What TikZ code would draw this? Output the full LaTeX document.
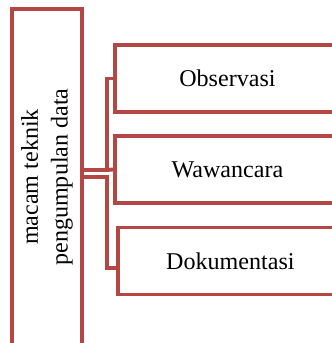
\documentclass[tikz,border=0pt]{standalone}
\usepackage{fontspec}
\setmainfont{Liberation Serif}
\definecolor{boxred}{RGB}{180,70,68}

\begin{document}
\begin{tikzpicture}[
    rootbox/.style={draw=boxred, line width=2.2pt, minimum width=1.4cm, minimum height=7.2cm},
    itembox/.style={draw=boxred, line width=2.2pt, minimum width=4.5cm, minimum height=1.34cm,
        anchor=west, font=\fontsize{13.7}{17}\selectfont},
    link/.style={draw=boxred, line width=2.2pt}]
    \useasboundingbox (0,0) rectangle (6.64,6.86);
    \clip (0,0) rectangle (6.64,6.86);
    % left box, runs past the bottom edge
    \node[rootbox] (root) at (0.94,3.08) {};
    \node[rotate=90, align=center, font=\fontsize{13.7}{17}\selectfont] (roottext) at (0.94,3.32)
        {macam teknik\\pengumpulan data};
    % the three techniques
    \node[itembox] (obs) at (2.26,5.29) {Observasi};
    \node[itembox] (waw) at (2.26,3.47) {Wawancara};
    \node[itembox] (dok) at (2.32,1.64) {Dokumentasi};
    % connectors
    \coordinate (upper) at (1.64,3.46);
    \coordinate (lower) at (1.64,3.32);
    \coordinate (dokin) at ([yshift=-0.14cm]dok.west);
    \draw[link] (upper) -- (2.14,3.46) |- (obs.west);
    \draw[link] (2.14,3.46) -- (waw.west);
    \draw[link] (lower) -- (2.14,3.32) |- (dokin);
\end{tikzpicture}
\end{document}
